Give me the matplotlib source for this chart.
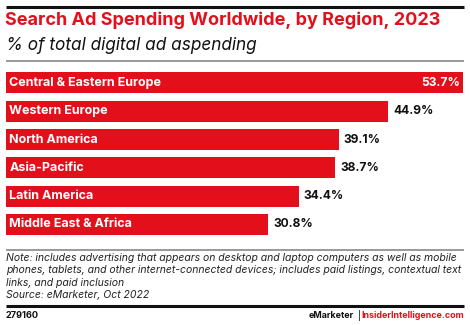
import matplotlib
matplotlib.use("Agg")
import matplotlib.pyplot as plt
from matplotlib.lines import Line2D

regions = ["Central & Eastern Europe", "Western Europe", "North America",
           "Asia-Pacific", "Latin America", "Middle East & Africa"]
shares = [53.7, 44.9, 39.1, 38.7, 34.4, 30.8]

title = "Search Ad Spending Worldwide, by Region, 2023"
subtitle = "% of total digital ad aspending"
note = ("Note: includes advertising that appears on desktop and laptop computers as well as mobile\n"
        "phones, tablets, and other internet-connected devices; includes paid listings, contextual text\n"
        "links, and paid inclusion\n"
        "Source: eMarketer, Oct 2022")
chart_id = "279160"

RED = "#E3101C"
W, H = 470, 325
FONT = "Inter"

fig = plt.figure(figsize=(W / 100, H / 100), dpi=100)
fig.patch.set_facecolor("white")


def fx(px):
    return px / W


def fy(py):
    return 1 - py / H


def hline(py, color, lw, x0=6, x1=464):
    fig.add_artist(Line2D([fx(x0), fx(x1)], [fy(py), fy(py)], color=color,
                          lw=lw, transform=fig.transFigure, solid_capstyle="butt"))


# header
hline(7, "#111111", 2.2)
fig.text(fx(5), fy(20), title, color=RED, fontsize=13.0, fontweight="bold",
         family=FONT, va="center", ha="left")
fig.text(fx(5.5), fy(45.5), subtitle, color="#111111", fontsize=12.4, style="italic",
         family=FONT, va="center", ha="left")
hline(61, "#888888", 1.2)

# bars
top_px, bot_px = 68.8, 238.6
ax = fig.add_axes([fx(6), fy(bot_px), fx(463) - fx(6), (bot_px - top_px) / H])
ypos = list(range(len(regions)))
ax.barh(ypos, shares, height=0.74, color=RED, edgecolor="none")
ax.set_xlim(0, shares[0])
ax.set_ylim(len(regions) - 0.5, -0.5)
ax.axis("off")

for i, (name, v) in enumerate(zip(regions, shares)):
    ax.annotate(name, xy=(0, i), xytext=(2.5, 0), textcoords="offset points",
                color="white", fontsize=9, fontweight="bold", family=FONT,
                va="center", ha="left")
    if i == 0:
        ax.annotate(f"{v}%", xy=(v, i), xytext=(-2, 0), textcoords="offset points",
                    color="white", fontsize=8.7, fontweight="bold", family=FONT,
                    va="center", ha="right")
    else:
        ax.annotate(f"{v}%", xy=(v, i), xytext=(3.5, 0), textcoords="offset points",
                    color="#111111", fontsize=8.7, fontweight="bold", family=FONT,
                    va="center", ha="left")

hline(249.5, "#888888", 1.2)

# note and source
fig.text(fx(6), fy(253), note, color="#222222", fontsize=7.5, style="italic",
         family=FONT, va="top", ha="left", linespacing=1.29)
hline(306, "#111111", 2.2)

# footer
fig.text(fx(6), fy(316), chart_id, color="#111111", fontsize=6.6, fontweight="bold",
         family=FONT, va="center", ha="left")
fig.text(fx(464), fy(316), "InsiderIntelligence.com", color=RED, fontsize=6.4,
         fontweight="bold", family=FONT, va="center", ha="right")
fig.text(fx(359.5), fy(315.5), "|", color="#111111", fontsize=6.6,
         family=FONT, va="center", ha="center")
fig.text(fx(354), fy(316), "eMarketer", color="#111111", fontsize=6.4,
         fontweight="bold", family=FONT, va="center", ha="right")

fig.savefig("out.png", dpi=100, facecolor="white")
